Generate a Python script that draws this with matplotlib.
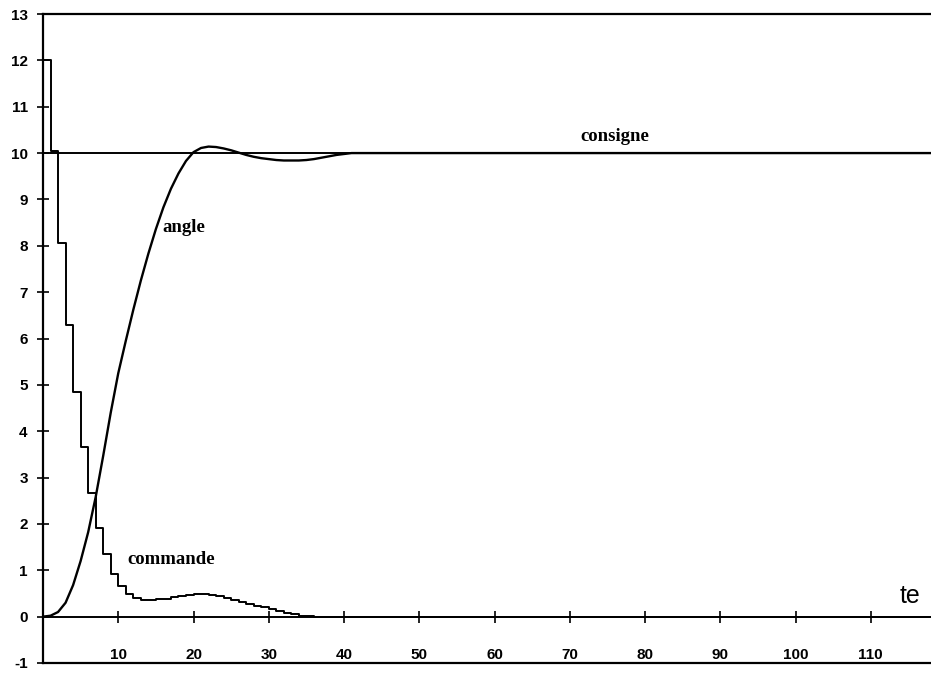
"""Step response plot: angle, commande, consigne (sample period te = 1)."""

import matplotlib
matplotlib.use("Agg")
import matplotlib.pyplot as plt
import numpy as np

# ---------------------------------------------------------------------------
# Data (one value per sample)
# ---------------------------------------------------------------------------
consigne = 10.0

commande_head = [12.0, 10.05, 8.05, 6.3, 4.85, 3.65, 2.67, 1.92, 1.35, 0.93,
                 0.66, 0.48, 0.40, 0.36, 0.36, 0.37, 0.39, 0.42, 0.45, 0.47,
                 0.48, 0.48, 0.47, 0.44, 0.40, 0.36, 0.32, 0.28, 0.24, 0.20,
                 0.16, 0.12, 0.08, 0.05, 0.02, 0.01, 0.0]

angle_head = [0.0, 0.02, 0.1, 0.3, 0.68, 1.2, 1.82, 2.58, 3.47, 4.4,
              5.25, 5.95, 6.62, 7.25, 7.83, 8.36, 8.83, 9.23, 9.56, 9.83,
              10.02, 10.11, 10.14, 10.13, 10.1, 10.06, 10.01, 9.96, 9.92, 9.89,
              9.87, 9.85, 9.84, 9.84, 9.84, 9.85, 9.87, 9.9, 9.93, 9.96,
              9.98, 10.0]

n_samples = 119
commande = commande_head + [0.0] * (n_samples - len(commande_head))
angle = angle_head + [10.0] * (n_samples - len(angle_head))
t = np.arange(n_samples)

x_ticks = [10, 20, 30, 40, 50, 60, 70, 80, 90, 100, 110]
y_ticks = list(range(-1, 14))

XMIN, XMAX = 0, 118
YMIN, YMAX = -1, 13

# ---------------------------------------------------------------------------
# Figure
# ---------------------------------------------------------------------------
fig = plt.figure(figsize=(9.31, 6.73), dpi=100)
ax = fig.add_axes([43 / 931, 10 / 673, (931 - 43) / 931, (663 - 14) / 673])

lw = 1.6
ax.step(t, commande, where="post", color="black", linewidth=1.4)
ax.plot(t, angle, color="black", linewidth=1.7)
ax.axhline(consigne, color="black", linewidth=1.4)

ax.set_xlim(XMIN, XMAX)
ax.set_ylim(YMIN, YMAX)

for side in ("left", "top", "bottom"):
    ax.spines[side].set_linewidth(lw)
ax.spines["right"].set_visible(False)

# y axis: crossing ticks at every integer, bold labels
tick_font = {"family": "Liberation Sans", "weight": "bold", "size": 11}
ax.set_yticks(y_ticks)
ax.set_yticklabels([str(v) for v in y_ticks], fontdict=tick_font)
ax.tick_params(axis="y", direction="inout", length=8, width=1.2, pad=7)

# x labels sit just above the bottom frame line
ax.set_xticks(x_ticks)
ax.set_xticklabels([str(v) for v in x_ticks], fontdict=tick_font)
ax.tick_params(axis="x", length=0, pad=-11)

# the time axis itself, drawn at y = 0 with crossing ticks
zero_frac = (0 - YMIN) / (YMAX - YMIN)
sec = ax.secondary_xaxis(zero_frac)
sec.set_xticks(x_ticks)
sec.tick_params(direction="inout", length=8, width=1.2, labelbottom=False)
sec.spines["bottom"].set_linewidth(1.4)

# annotations
label_font = {"family": "Liberation Serif", "weight": "bold", "size": 13.5}
ax.text(76.0, 10.36, "consigne", ha="center", va="center", fontdict=label_font)
ax.text(15.8, 8.4, "angle", ha="left", va="center", fontdict=label_font)
ax.text(11.2, 1.23, "commande", ha="left", va="center", fontdict=label_font)
ax.text(115.2, 0.45, "te", ha="center", va="center",
        family="Liberation Sans", size=18)

fig.savefig("out.png", dpi=100)
